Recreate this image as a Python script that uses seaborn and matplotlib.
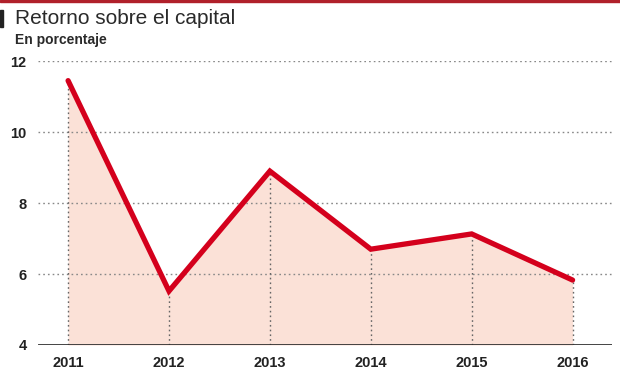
import matplotlib
matplotlib.use("Agg")
import matplotlib.pyplot as plt
import seaborn as sns
import pandas as pd

years = [2011, 2012, 2013, 2014, 2015, 2016]
values = [11.45, 5.52, 8.9, 6.7, 7.13, 5.83]
y_ticks = [4, 6, 8, 10, 12]
title = "Retorno sobre el capital"
subtitle = "En porcentaje"

sns.set_theme(style="white")
plt.rcParams['font.family'] = ['Liberation Sans Narrow', 'Liberation Sans', 'DejaVu Sans']

df = pd.DataFrame({"year": years, "value": values})

fig = plt.figure(figsize=(6.2, 3.75), dpi=100)
ax = fig.add_axes([0.061, 0.08, 0.926, 0.757])

ax.fill_between(df["year"], df["value"], 4, color="#fbe1d7", zorder=1, linewidth=0)
for yv in y_ticks[1:]:
    ax.axhline(yv, color="#888888", linestyle=(0, (1.2, 2.2)), linewidth=1.0, zorder=2)
for x, v in zip(years, values):
    ax.plot([x, x], [4, v], color="#666666", linestyle=(0, (1.2, 2.2)), linewidth=1.0, zorder=2)
sns.lineplot(data=df, x="year", y="value", ax=ax, color="#d4001c", linewidth=3.8,
             zorder=3, solid_capstyle="round", solid_joinstyle="miter")
ax.axhline(4, color="#333333", linewidth=2.0, zorder=4)

ax.set_xlim(2010.70, 2016.39)
ax.set_ylim(4, 12)
ax.set_yticks(y_ticks)
ax.set_xticks(years)
ax.set_xticklabels([str(y) for y in years], fontweight="bold", fontsize=10.5, color="#222222")
ax.set_yticklabels([str(y) for y in y_ticks], fontweight="bold", fontsize=10.5, color="#222222")
ax.tick_params(axis="x", length=0, pad=8)
ax.tick_params(axis="y", length=0, pad=8)
ax.set_xlabel("")
ax.set_ylabel("")
for s in ax.spines.values():
    s.set_visible(False)
ax.patch.set_alpha(0)

fig.text(15 / 620, 1 - 18 / 375, title, fontsize=15, color="#2a2a2a", va="center", ha="left")
fig.text(15 / 620, 1 - 40 / 375, subtitle, fontsize=10, color="#2a2a2a", va="center", ha="left", fontweight="bold")
fig.patches.append(plt.Rectangle((0, 1 - 27 / 375), 3 / 620, 17 / 375, transform=fig.transFigure,
                                 color="#222222", zorder=5))
fig.patches.append(plt.Rectangle((0, 1 - 2 / 375), 1, 2 / 375, transform=fig.transFigure,
                                 color="#b0202a", zorder=5))

fig.savefig("out.png", dpi=100)
